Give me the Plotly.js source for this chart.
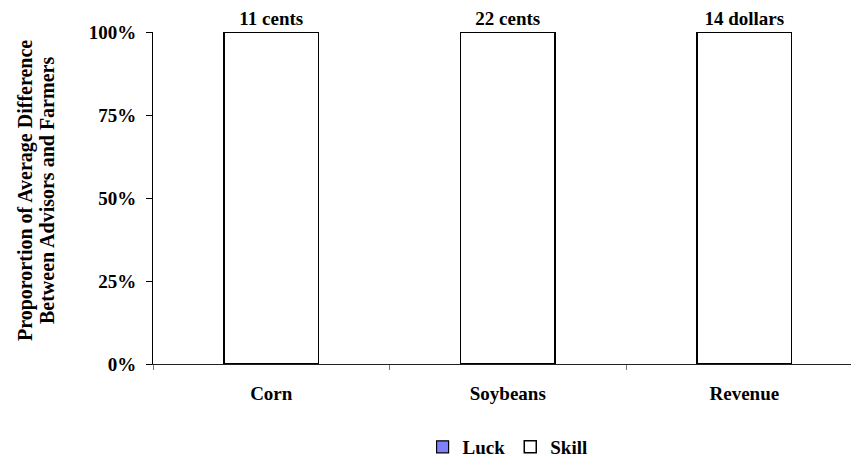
<!DOCTYPE html>
<html><head><meta charset="utf-8">
<script src="https://cdn.plot.ly/plotly-3.0.1.min.js"></script>
<style>html,body{margin:0;padding:0;background:#fff}</style>
</head><body>
<div id="chart" style="width:851px;height:459px"></div>
<script>
const categories = ["Corn", "Soybeans", "Revenue"];
const luck = [0, 0, 0];
const skill = [1, 1, 1];
const barLabels = ["11 cents", "22 cents", "14 dollars"];
const yTickVals = [0, 0.25, 0.5, 0.75, 1];
const yTickText = ["0%", "25%", "50%", "75%", "100%"];
const yTitleLines = ["Proporortion of Average Difference", "Between Advisors and Farmers"];

const FONT = "Liberation Serif";

const traces = [
  {type: "bar", name: "Luck", x: categories, y: luck,
   marker: {color: "#8080FF", line: {color: "#000", width: 1.2}},
   hoverinfo: "skip"},
  {type: "bar", name: "Skill", x: categories, y: skill,
   marker: {color: "#FFFFFF", line: {color: "#000", width: 1.5}},
   text: barLabels, textposition: "outside", cliponaxis: false,
   textfont: {family: FONT, size: 19, color: "#000", weight: "bold"},
   hoverinfo: "skip"}
];

const titleX = [-0.1834, -0.1519];
const annotations = yTitleLines.map((t, i) => ({
  text: t, xref: "paper", yref: "paper", x: titleX[i], y: 0.524,
  xanchor: "center", yanchor: "middle", textangle: -90, showarrow: false,
  font: {family: FONT, size: 20, color: "#000", weight: "bold"}
}));

const layout = {
  width: 851, height: 459,
  margin: {l: 153, r: 0, t: 32, b: 95, autoexpand: false},
  paper_bgcolor: "#fff", plot_bgcolor: "#fff",
  barmode: "stack", bargap: 0.6,
  showlegend: true,
  font: {family: FONT, color: "#000", size: 19, weight: "bold"},
  annotations: annotations,
  xaxis: {
    range: [-0.5, 2.451], showgrid: false, zeroline: false, automargin: false,
    showline: true, linecolor: "#222", linewidth: 1,
    ticks: "outside", tickson: "boundaries", ticklen: 5, tickcolor: "#777",
    tickfont: {family: FONT, size: 19, weight: "bold"},
    ticklabelstandoff: 12, fixedrange: true
  },
  yaxis: {
    range: [0, 1], showgrid: false, zeroline: false, automargin: false,
    showline: true, linecolor: "#000", linewidth: 1,
    ticks: "outside", ticklen: 6, tickcolor: "#000",
    tickvals: yTickVals, ticktext: yTickText,
    tickfont: {family: FONT, size: 19, weight: "bold"},
    ticklabelstandoff: 6,
    fixedrange: true
  },
  legend: {
    orientation: "h", x: 0.508, xanchor: "center", y: -0.25, yanchor: "middle",
    traceorder: "normal",
    font: {family: FONT, size: 19, weight: "bold"},
    itemwidth: 30, tracegroupgap: 0
  }
};

Plotly.newPlot("chart", traces, layout, {displayModeBar: false, staticPlot: true});
</script>
</body></html>
